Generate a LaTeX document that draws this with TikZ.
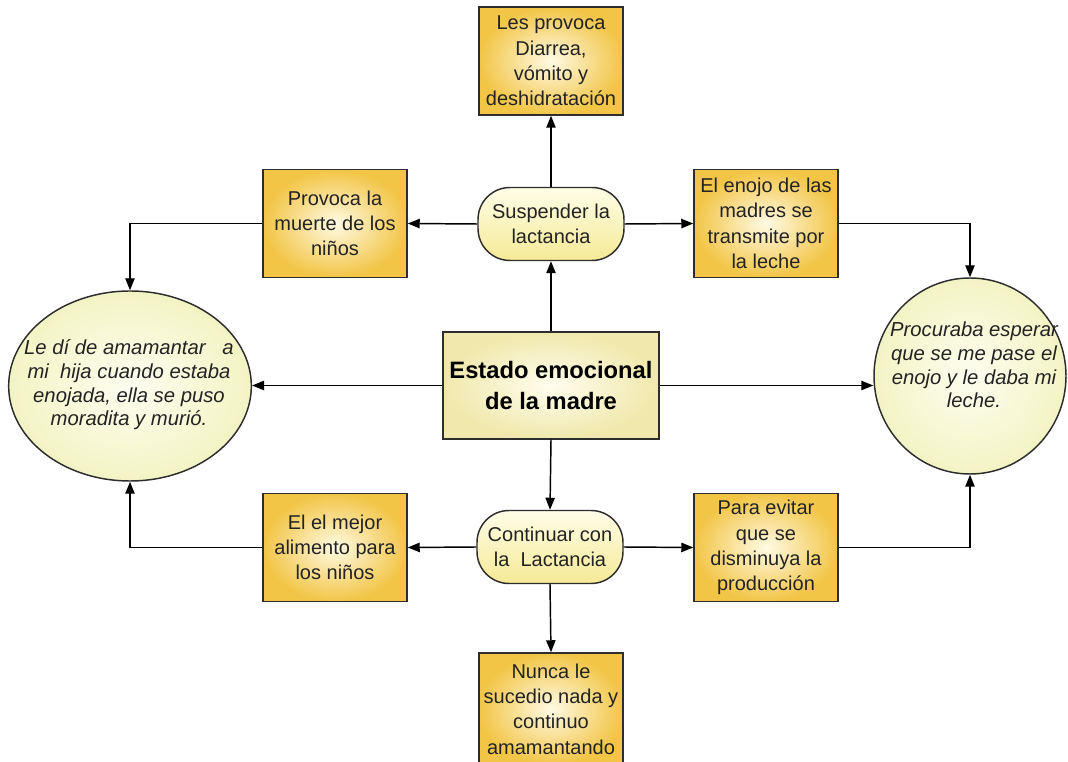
\documentclass[tikz,border=0pt]{standalone}
\usepackage{fontspec}
\setmainfont{Liberation Sans}
\usetikzlibrary{shapes.geometric,arrows.meta}

\definecolor{gold}{RGB}{242,197,70}
\definecolor{goldin}{RGB}{255,250,228}
\definecolor{paleout}{RGB}{240,232,172}
\definecolor{palein}{RGB}{255,253,238}
\definecolor{ellout}{RGB}{243,244,196}
\definecolor{ellin}{RGB}{253,253,240}
\definecolor{pilltop}{RGB}{255,253,232}
\definecolor{pillbot}{RGB}{245,234,150}
\definecolor{edge}{RGB}{45,45,45}
\definecolor{ink}{RGB}{35,35,35}

\tikzset{
  goldbox/.style={draw=edge, line width=1.1pt, shading=radial,
    inner color=goldin, outer color=gold, minimum width=108pt,
    minimum height=81pt, inner sep=1pt, align=center, text=ink,
    font=\fontsize{15}{19}\selectfont},
  pill/.style={draw=edge, line width=1.1pt, rounded corners=24pt,
    shading=axis, top color=pilltop, bottom color=pillbot,
    minimum width=109.5pt, minimum height=54.75pt, inner sep=2pt,
    align=center, text=ink, font=\fontsize{15}{19}\selectfont},
  mainbox/.style={draw=edge, line width=1.1pt, shading=radial,
    inner color=palein, outer color=paleout, minimum width=162pt,
    minimum height=80.25pt, align=center, text=black,
    font=\fontsize{17.8}{23}\selectfont\bfseries},
  oval/.style={ellipse, draw=edge, line width=1.1pt, shading=radial,
    inner color=ellin, outer color=ellout, inner sep=0pt},
  ovaltext/.style={align=center, text=ink, inner sep=0pt,
    font=\fontsize{15.2}{17.8}\selectfont\itshape},
  link/.style={draw=black, line width=1.1pt,
    -{Triangle[length=9pt,width=7pt]}}
}

\begin{document}
\begin{tikzpicture}[x=0.75pt,y=-0.75pt]
  \useasboundingbox (0,0) rectangle (1068,762);
  \clip (0,0) rectangle (1068,762);

  % central node
  \node[mainbox] (centro) at (551,385.5) {Estado emocional\\de la madre};

  % upper branch
  \node[pill] (suspender) at (551,224) {Suspender la\\lactancia};
  \node[goldbox] (diarrea) at (551,61) {Les provoca\\Diarrea,\\vómito y\\deshidratación};
  \node[goldbox] (muerte) at (335,223.5) {Provoca la\\muerte de los\\niños};
  \node[goldbox] (enojo) at (766,223.5) {El enojo de las\\madres se\\transmite por\\la leche};

  % lower branch
  \node[pill] (continuar) at (550,547) {Continuar con\\la\ \ Lactancia};
  \node[goldbox] (mejor) at (335,547.5) {El el mejor\\alimento para\\los niños};
  \node[goldbox] (evitar) at (766,547.5) {Para evitar\\que se\\disminuya la\\producción};
  \node[goldbox, minimum height=84pt] (nunca) at (551,709) {Nunca le\\sucedio nada y\\continuo\\amamantando};

  % testimonies
  \node[oval, minimum width=182pt, minimum height=142.5pt] (izq) at (130,386) {};
  \node[ovaltext] (izqtxt) at (129,385) {Le dí de amamantar\ \ \ a\\mi\ \ hija cuando estaba\\enojada, ella se puso\\moradita y murió.};
  \node[oval, minimum width=144pt, minimum height=147pt] (der) at (970,376) {};
  \node[ovaltext] (dertxt) at (974,365) {Procuraba esperar\\que se me pase el\\enojo y le daba mi\\leche.};

  % connectors
  \draw[link] (centro.north) -- (suspender.south);
  \draw[link] (suspender.north) -- (diarrea.south);
  \draw[link] (suspender.west) -- (muerte.east);
  \draw[link] (suspender.east) -- (enojo.west);
  \draw[link] (muerte.west) -| (izq.north);
  \draw[link] (enojo.east) -| (der.north);
  \draw[link] (centro.west) -- (centro.west -| izq.east);
  \draw[link] (centro.east) -- (centro.east -| der.west);
  \draw[link] (centro.south) -- (continuar.north);
  \draw[link] (continuar.west) -- (mejor.east);
  \draw[link] (continuar.east) -- (evitar.west);
  \draw[link] (continuar.south) -- (nunca.north);
  \draw[link] (mejor.west) -| (izq.south);
  \draw[link] (evitar.east) -| (der.south);
\end{tikzpicture}
\end{document}
